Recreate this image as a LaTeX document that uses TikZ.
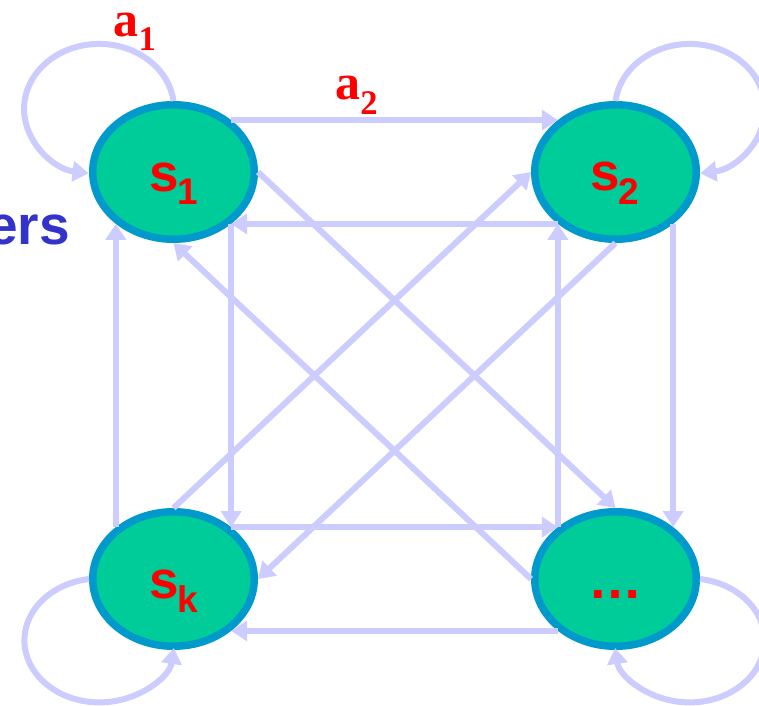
\documentclass[tikz,border=0pt]{standalone}
\usepackage{fontspec}
\setmainfont{Liberation Sans}
\newfontfamily\timesfont{Liberation Serif}
\usetikzlibrary{shapes.geometric,arrows.meta}
\definecolor{edgec}{HTML}{CCCCFF}
\definecolor{statefill}{HTML}{00CC99}
\definecolor{stateborder}{HTML}{0099CC}
\definecolor{lblred}{HTML}{FF0000}
\definecolor{textblue}{HTML}{3333CC}
\newcommand{\subsc}[2]{\raisebox{-#1pt}{\fontsize{37}{37}\selectfont #2}}
\newcommand{\asubsc}[2]{\raisebox{-#1pt}{\fontsize{34.5}{34.5}\selectfont #2}}
\begin{document}
\begin{tikzpicture}[x=1pt,y=1pt,
  state/.style={ellipse, draw=stateborder, fill=statefill, line width=7.5pt,
    minimum width=161.5pt, minimum height=134.5pt, inner sep=0pt, outer sep=3.75pt},
  edge/.style={draw=edgec, line width=6pt, -{Triangle[width=20pt,length=16pt]}},
  slabel/.style={text=lblred, font=\bfseries\fontsize{53}{53}\selectfont, inner sep=0pt, anchor=base west},
  alabel/.style={text=lblred, font=\timesfont\bfseries\fontsize{50}{50}\selectfont, inner sep=0pt,
    anchor=base west, text height=25pt},
]
\fill[white] (0,0) rectangle (759,705);
\useasboundingbox (0,0) rectangle (759,705);

% states
\node[state] (s1) at (173.5,533) {};
\node[state] (s2) at (615.5,533) {};
\node[state] (sk) at (173.5,126) {};
\node[state] (d)  at (615.5,126) {};

% straight connectors
\draw[edge] (s1.42) -- (s2.138);
\draw[edge] (s2.222) -- (s1.318);
\draw[edge] (sk.138) -- (s1.222);
\draw[edge] (s1.318) -- (sk.42);
\draw[edge] (sk.42) -- (d.138);
\draw[edge] (d.222) -- (sk.318);
\draw[edge] (d.138) -- (s2.222);
\draw[edge] (s2.318) -- (d.42);
\draw[edge] (s1.east) -- (d.north);
\draw[edge] (sk.north) -- (s2.west);
\draw[edge] (s2.south) -- (sk.east);
\draw[edge] (d.west) -- (s1.south);

% self loops
\draw[edge] (s1.north) arc[start angle=7, end angle=262, x radius=75pt, y radius=65pt];
\draw[edge] (s2.north) arc[start angle=173, end angle=-82, x radius=75pt, y radius=65pt];
\draw[edge] (sk.west) arc[start angle=98, end angle=353, x radius=75pt, y radius=62pt];
\draw[edge] (d.east) arc[start angle=82, end angle=-173, x radius=75pt, y radius=62pt];

% state labels
\node[slabel] (ls1) at (149,513) {s\kern-1.5pt\subsc{13}{1}};
\node[slabel] (ls2) at (590,514) {s\kern-1.5pt\subsc{14}{2}};
\node[slabel] (lsk) at (149,107) {s\kern-1.5pt\subsc{14.5}{k}};
\node[text=lblred, font=\bfseries\fontsize{54}{54}\selectfont, inner sep=0pt, anchor=base] (ld) at (615.5,106.7) {…};

% edge labels
\node[alabel] (la1) at (113.5,668.3) {a\asubsc{13.5}{1}};
\node[alabel] (la2) at (335.2,605) {a\asubsc{14.5}{2}};

% cut-off text at left
\node[text=textblue, font=\bfseries\fontsize{55}{55}\selectfont, inner sep=0pt, anchor=base east] (ers) at (70,460.7) {ers};
\end{tikzpicture}
\end{document}
